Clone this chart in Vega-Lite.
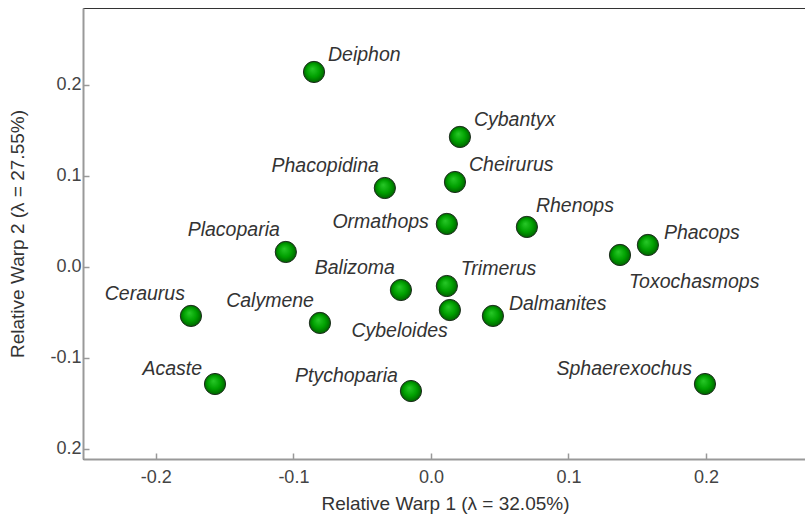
{
  "$schema": "https://vega.github.io/schema/vega-lite/v6.json",
  "width": 724,
  "height": 451,
  "autosize": "none",
  "padding": {"left": 83, "top": 8, "right": 0, "bottom": 59},
  "background": "white",
  "config": {
    "view": {"stroke": "#333333", "strokeWidth": 1},
    "font": "Liberation Sans",
    "axis": {
      "grid": false,
      "domainColor": "#999999",
      "domainWidth": 2,
      "tickColor": "#999999",
      "tickWidth": 1.5,
      "tickSize": -6,
      "labelFont": "Liberation Sans",
      "labelFontSize": 18,
      "labelColor": "#444444",
      "titleFont": "Liberation Sans",
      "titleFontSize": 19,
      "titleFontWeight": "normal",
      "titleColor": "#333333"
    }
  },
  "data": {
    "values": [
      {"taxon": "Deiphon", "rw1": -0.085, "rw2": 0.2143},
      {"taxon": "Cybantyx", "rw1": 0.0211, "rw2": 0.1429},
      {"taxon": "Cheirurus", "rw1": 0.0175, "rw2": 0.0934},
      {"taxon": "Phacopidina", "rw1": -0.0335, "rw2": 0.0868},
      {"taxon": "Ormathops", "rw1": 0.0116, "rw2": 0.0473},
      {"taxon": "Rhenops", "rw1": 0.0698, "rw2": 0.044},
      {"taxon": "Phacops", "rw1": 0.1578, "rw2": 0.0242},
      {"taxon": "Toxochasmops", "rw1": 0.1375, "rw2": 0.0132},
      {"taxon": "Placoparia", "rw1": -0.1055, "rw2": 0.0165},
      {"taxon": "Balizoma", "rw1": -0.0218, "rw2": -0.0253},
      {"taxon": "Trimerus", "rw1": 0.0116, "rw2": -0.0209},
      {"taxon": "Cybeloides", "rw1": 0.0138, "rw2": -0.0473},
      {"taxon": "Dalmanites", "rw1": 0.0451, "rw2": -0.0538},
      {"taxon": "Ceraurus", "rw1": -0.1745, "rw2": -0.0538},
      {"taxon": "Calymene", "rw1": -0.0807, "rw2": -0.0615},
      {"taxon": "Acaste", "rw1": -0.157, "rw2": -0.1286},
      {"taxon": "Ptychoparia", "rw1": -0.0145, "rw2": -0.1363},
      {"taxon": "Sphaerexochus", "rw1": 0.1993, "rw2": -0.1286}
    ]
  },
  "encoding": {
    "x": {
      "field": "rw1", "type": "quantitative",
      "scale": {"domain": [-0.253, 0.2735], "nice": false, "zero": false},
      "axis": {
        "values": [-0.2, -0.1, 0, 0.1, 0.2],
        "labelExpr": "replace(format(datum.value, '.1f'), '\u2212', '-')",
        "labelPadding": 15,
        "title": "Relative Warp 1 (\u03bb = 32.05%)",
        "titlePadding": 8
      }
    },
    "y": {
      "field": "rw2", "type": "quantitative",
      "scale": {"domain": [-0.211, 0.2846], "nice": false, "zero": false},
      "axis": {
        "values": [-0.2, -0.1, 0, 0.1, 0.2],
        "labelExpr": "datum.value < -0.15 ? '0.2' : replace(format(datum.value, '.1f'), '\u2212', '-')",
        "labelPadding": 8,
        "title": "Relative Warp 2 (\u03bb = 27.55%)",
        "titlePadding": 22
      }
    }
  },
  "layer": [
    {
      "mark": {
        "type": "point",
        "filled": true,
        "size": 450,
        "opacity": 1,
        "stroke": "#1e2e1e",
        "strokeWidth": 1,
        "color": {
          "gradient": "radial",
          "x1": 0.42, "y1": 0.35, "r1": 0,
          "x2": 0.5, "y2": 0.5, "r2": 0.55,
          "stops": [
            {"offset": 0, "color": "#28c828"},
            {"offset": 0.55, "color": "#00a000"},
            {"offset": 1, "color": "#005500"}
          ]
        }
      }
    },
    {
      "transform": [{"filter": {"field": "taxon", "oneOf": ["Deiphon", "Cybantyx", "Cheirurus", "Trimerus"]}}],
      "mark": {"type": "text", "align": "left", "baseline": "middle", "dx": 14, "dy": -17, "fontSize": 19.5, "fontStyle": "italic", "color": "#333333"},
      "encoding": {"text": {"field": "taxon"}}
    },
    {
      "transform": [{"filter": {"field": "taxon", "oneOf": ["Rhenops"]}}],
      "mark": {"type": "text", "align": "left", "baseline": "middle", "dx": 9, "dy": -21, "fontSize": 19.5, "fontStyle": "italic", "color": "#333333"},
      "encoding": {"text": {"field": "taxon"}}
    },
    {
      "transform": [{"filter": {"field": "taxon", "oneOf": ["Phacops", "Dalmanites"]}}],
      "mark": {"type": "text", "align": "left", "baseline": "middle", "dx": 16, "dy": -12, "fontSize": 19.5, "fontStyle": "italic", "color": "#333333"},
      "encoding": {"text": {"field": "taxon"}}
    },
    {
      "transform": [{"filter": {"field": "taxon", "oneOf": ["Phacopidina", "Placoparia", "Balizoma", "Ceraurus", "Calymene"]}}],
      "mark": {"type": "text", "align": "right", "baseline": "middle", "dx": -6, "dy": -22, "fontSize": 19.5, "fontStyle": "italic", "color": "#333333"},
      "encoding": {"text": {"field": "taxon"}}
    },
    {
      "transform": [{"filter": {"field": "taxon", "oneOf": ["Acaste", "Ptychoparia", "Sphaerexochus"]}}],
      "mark": {"type": "text", "align": "right", "baseline": "middle", "dx": -13, "dy": -15, "fontSize": 19.5, "fontStyle": "italic", "color": "#333333"},
      "encoding": {"text": {"field": "taxon"}}
    },
    {
      "transform": [{"filter": {"field": "taxon", "oneOf": ["Ormathops"]}}],
      "mark": {"type": "text", "align": "right", "baseline": "middle", "dx": -18, "dy": -2, "fontSize": 19.5, "fontStyle": "italic", "color": "#333333"},
      "encoding": {"text": {"field": "taxon"}}
    },
    {
      "transform": [{"filter": {"field": "taxon", "oneOf": ["Toxochasmops"]}}],
      "mark": {"type": "text", "align": "left", "baseline": "middle", "dx": 9, "dy": 27, "fontSize": 19.5, "fontStyle": "italic", "color": "#333333"},
      "encoding": {"text": {"field": "taxon"}}
    },
    {
      "transform": [{"filter": {"field": "taxon", "oneOf": ["Cybeloides"]}}],
      "mark": {"type": "text", "align": "right", "baseline": "middle", "dx": -2, "dy": 21, "fontSize": 19.5, "fontStyle": "italic", "color": "#333333"},
      "encoding": {"text": {"field": "taxon"}}
    }
  ]
}
